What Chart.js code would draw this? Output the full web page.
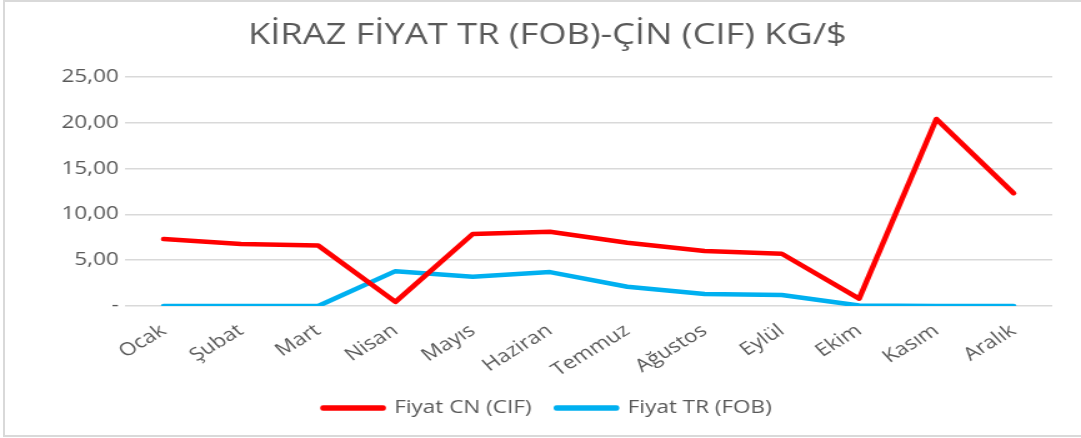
<!DOCTYPE html>
<html><head><meta charset="utf-8">
<script src="https://cdn.jsdelivr.net/npm/chart.js@4/dist/chart.umd.min.js"></script>
<style>
html,body{margin:0;padding:0;background:#fff;}
#wrap{position:relative;width:1081px;height:438px;overflow:hidden;}
#frame{position:absolute;left:3px;top:0px;width:1100px;height:433px;border:2px solid #d9d9d9;box-sizing:content-box;pointer-events:none;}
canvas{position:absolute;left:0;top:0;width:1081px!important;height:438px!important;}
</style></head>
<body>
<div id="wrap"><canvas id="c" width="865" height="438"></canvas><div id="frame"></div></div>
<script>
const months = ["Ocak","Şubat","Mart","Nisan","Mayıs","Haziran","Temmuz","Ağustos","Eylül","Ekim","Kasım","Aralık"];
const fiyatCN = [7.3, 6.75, 6.6, 0.45, 7.85, 8.1, 6.9, 6.0, 5.7, 0.8, 20.4, 12.3];
const fiyatTR = [0, 0, 0, 3.8, 3.2, 3.7, 2.1, 1.3, 1.2, 0.05, 0, 0];
const yTicks = [0, 5, 10, 15, 20, 25];
const titleText = "KİRAZ FİYAT TR (FOB)-ÇİN (CIF) KG/$";

const FONT = "'Open Sans', sans-serif";
const GREY = "#595959";

new Chart(document.getElementById('c'), {
  type: 'line',
  data: {
    labels: months,
    datasets: [
      {label: "Fiyat CN (CIF)", data: fiyatCN, borderColor: "#ff0000", backgroundColor: "#ff0000", borderWidth: 4.5, pointRadius: 0, tension: 0, borderCapStyle: 'round', borderJoinStyle: 'round'},
      {label: "Fiyat TR (FOB)", data: fiyatTR, borderColor: "#00b0f0", backgroundColor: "#00b0f0", borderWidth: 4.5, pointRadius: 0, tension: 0, borderCapStyle: 'round', borderJoinStyle: 'round'}
    ]
  },
  options: {
    responsive: false,
    maintainAspectRatio: false,
    devicePixelRatio: 1,
    animation: false,
    layout: {padding: {left: 34, right: 23, top: 0, bottom: 11}},
    plugins: {
      title: {display: true, text: titleText, color: GREY, font: {family: FONT, size: 29, weight: 'normal'}, padding: {top: 18, bottom: 24}},
      legend: {position: 'bottom', labels: {color: GREY, font: {family: FONT, size: 18}, boxWidth: 48, boxHeight: 1, padding: 20}},
      tooltip: {enabled: false}
    },
    scales: {
      y: {
        min: 0, max: 25,
        afterBuildTicks: s => { s.ticks = yTicks.map(v => ({value: v})); },
        afterFit: s => { s.width = 66; },
        grid: {color: "#d9d9d9", lineWidth: 1.5, drawTicks: false},
        border: {display: false},
        ticks: {color: GREY, font: {family: FONT, size: 18}, padding: 5,
          callback: v => v === 0 ? '-' : v.toFixed(2).replace('.', ',')}
      },
      x: {
        offset: true,
        afterFit: s => { s.height = 73; },
        grid: {display: false},
        border: {display: false},
        ticks: {color: GREY, font: {family: FONT, size: 18}, minRotation: 37, maxRotation: 37, padding: 6}
      }
    }
  }
});
</script>
</body></html>
